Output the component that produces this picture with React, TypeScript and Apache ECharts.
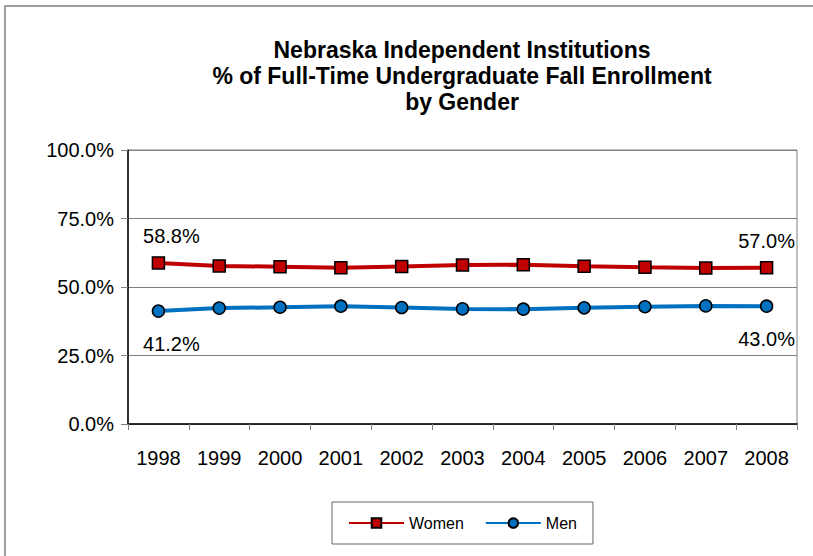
import React, { useEffect, useRef } from "react";
import * as echarts from "echarts";

const categories = ["1998", "1999", "2000", "2001", "2002", "2003", "2004", "2005", "2006", "2007", "2008"];
const women = [58.8, 57.7, 57.4, 57.0, 57.5, 58.0, 58.1, 57.6, 57.2, 56.9, 57.0];
const men = [41.2, 42.3, 42.6, 43.0, 42.5, 42.0, 41.9, 42.4, 42.8, 43.1, 43.0];
const titleLines = [
  "Nebraska Independent Institutions",
  "% of Full-Time Undergraduate Fall Enrollment",
  "by Gender",
];
const FONT = "'Liberation Sans', Arial, sans-serif";

export default function App() {
  const ref = useRef<HTMLDivElement>(null);
  useEffect(() => {
    document.body.style.margin = "0";
    if (!ref.current) return;
    const chart = echarts.init(ref.current, null, { renderer: "svg" });
    const last = categories.length - 1;
    const fmt = (v: number) => v.toFixed(1) + "%";
    chart.setOption({
      animation: false,
      backgroundColor: "#fff",
      textStyle: { fontFamily: FONT },
      title: {
        text: titleLines.join("\n"),
        left: 462,
        textAlign: "center",
        top: 37,
        padding: 0,
        textStyle: { fontFamily: FONT, fontSize: 23, fontWeight: "bold", color: "#000", lineHeight: 26 },
      },
      graphic: [
        {
          type: "rect",
          shape: { x: 5, y: 6, width: 830, height: 580 },
          style: { fill: "none", stroke: "#808080", lineWidth: 1.5 },
          silent: true,
        },
      ],
      legend: {
        left: 332,
        top: 502,
        padding: [13, 16],
        itemWidth: 55,
        itemHeight: 12,
        itemGap: 21,
        borderColor: "#666",
        borderWidth: 1,
        textStyle: { fontFamily: FONT, fontSize: 16, color: "#000" },
        data: ["Women", "Men"],
      },
      grid: {
        left: 128,
        top: 150,
        width: 669,
        height: 274,
        show: true,
        borderColor: "#808080",
        borderWidth: 1,
      },
      xAxis: {
        type: "category",
        data: categories,
        boundaryGap: true,
        axisLine: { lineStyle: { color: "#000", width: 1.5 } },
        axisTick: { show: true, length: 6, lineStyle: { color: "#808080" } },
        axisLabel: { fontFamily: FONT, fontSize: 20, color: "#000", margin: 24 },
      },
      yAxis: {
        type: "value",
        min: 0,
        max: 100,
        interval: 25,
        axisLine: { show: true, lineStyle: { color: "#000", width: 1.5 } },
        axisTick: { show: true, length: 7, lineStyle: { color: "#808080" } },
        splitLine: { lineStyle: { color: "#808080", width: 1 } },
        axisLabel: { fontFamily: FONT, fontSize: 20, color: "#000", margin: 14, formatter: (v: number) => fmt(v) },
      },
      series: [
        {
          name: "Women",
          type: "line",
          symbol: "rect",
          symbolSize: 12,
          lineStyle: { color: "#C00000", width: 4 },
          itemStyle: { color: "#C00000", borderColor: "#000", borderWidth: 1.5 },
          data: women.map((v, i) => ({
            value: v,
            label: {
              show: i === 0 || i === last,
              position: "top",
              distance: 10,
              offset: i === 0 ? [13, 0] : [0, 0],
              fontFamily: FONT,
              fontSize: 20,
              color: "#000",
              formatter: (p: any) => fmt(p.value),
            },
          })),
        },
        {
          name: "Men",
          type: "line",
          symbol: "circle",
          symbolSize: 12,
          lineStyle: { color: "#0070C0", width: 4 },
          itemStyle: { color: "#0070C0", borderColor: "#000", borderWidth: 1.5 },
          data: men.map((v, i) => ({
            value: v,
            label: {
              show: i === 0 || i === last,
              position: "bottom",
              distance: 16,
              offset: i === 0 ? [13, 0] : [0, 0],
              fontFamily: FONT,
              fontSize: 20,
              color: "#000",
              formatter: (p: any) => fmt(p.value),
            },
          })),
        },
      ],
    });
    return () => chart.dispose();
  }, []);
  return <div ref={ref} style={{ width: 813, height: 556 }} />;
}
